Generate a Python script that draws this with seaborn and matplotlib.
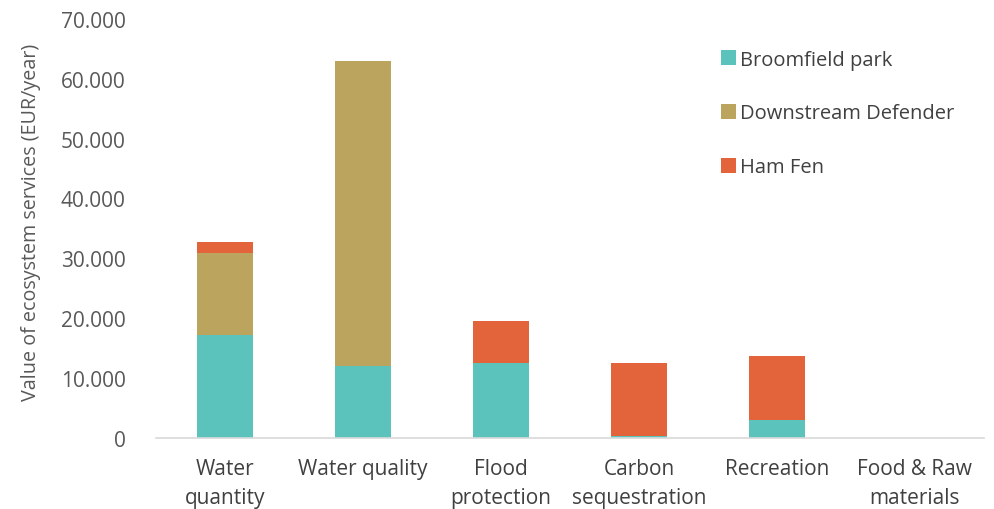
import matplotlib
matplotlib.use("Agg")
import matplotlib.pyplot as plt
from matplotlib.patches import Patch
from matplotlib.ticker import FuncFormatter
import numpy as np
import pandas as pd
import seaborn as sns

# Ecosystem service values per site (EUR/year)
services = ["Water\nquantity", "Water quality", "Flood\nprotection",
            "Carbon\nsequestration", "Recreation", "Food & Raw\nmaterials"]
broomfield = [17200, 12000, 12500, 250, 3000, 0]
downstream = [13650, 51000, 0, 0, 0, 0]
ham_fen = [1800, 0, 7000, 12300, 10600, 0]

series_names = ["Broomfield park", "Downstream Defender", "Ham Fen"]
colors = ["#5BC3BC", "#BBA55E", "#E3643A"]
y_ticks = [0, 10000, 20000, 30000, 40000, 50000, 60000, 70000]

df = pd.DataFrame({"service": services, "Broomfield park": broomfield,
                   "Downstream Defender": downstream, "Ham Fen": ham_fen})
# cumulative tops for layered (stacked) drawing
df["top_b"] = df["Broomfield park"]
df["top_d"] = df["top_b"] + df["Downstream Defender"]
df["top_h"] = df["top_d"] + df["Ham Fen"]

sns.set_theme(style="white")
plt.rcParams["font.family"] = ["Open Sans", "DejaVu Sans"]

fig = plt.figure(figsize=(9.95, 5.1), dpi=100)
ax = fig.add_axes([0.1568, 0.140, 0.832, 0.821])

for col, c in zip(["top_h", "top_d", "top_b"], colors[::-1]):
    sns.barplot(data=df, x="service", y=col, color=c, width=0.41,
                saturation=1, linewidth=0, ax=ax, order=services)

ax.set_ylim(0, 70000)
ax.set_xlim(-0.5, len(services) - 0.5)
ax.set_yticks(y_ticks)
ax.yaxis.set_major_formatter(FuncFormatter(
    lambda v, p: "0" if v == 0 else f"{int(v):,}".replace(",", ".")))
ax.tick_params(axis="y", labelsize=15, labelcolor="#595959", length=0, pad=22)
ax.tick_params(axis="x", labelsize=15, labelcolor="#404040", length=0, pad=15)
for lbl in ax.get_xticklabels():
    lbl.set_linespacing(1.5)
ax.set_xlabel("")
ax.set_ylabel("Value of ecosystem services (EUR/year)", fontsize=14.2,
              color="#595959")
ax.yaxis.set_label_coords(-0.139, 0.517)

for s in ["top", "right", "left"]:
    ax.spines[s].set_visible(False)
ax.spines["bottom"].set_color("#D9D9D9")
ax.spines["bottom"].set_linewidth(1.2)

handles = [Patch(facecolor=c, edgecolor="none") for c in colors]
leg = ax.legend(handles, series_names, loc="upper left",
                bbox_to_anchor=(0.66, 0.97), frameon=False, fontsize=14.5,
                labelspacing=1.68, handlelength=0.75, handleheight=0.75,
                handletextpad=0.22, labelcolor="#404040")

fig.savefig("out.png", dpi=100, facecolor="white")
